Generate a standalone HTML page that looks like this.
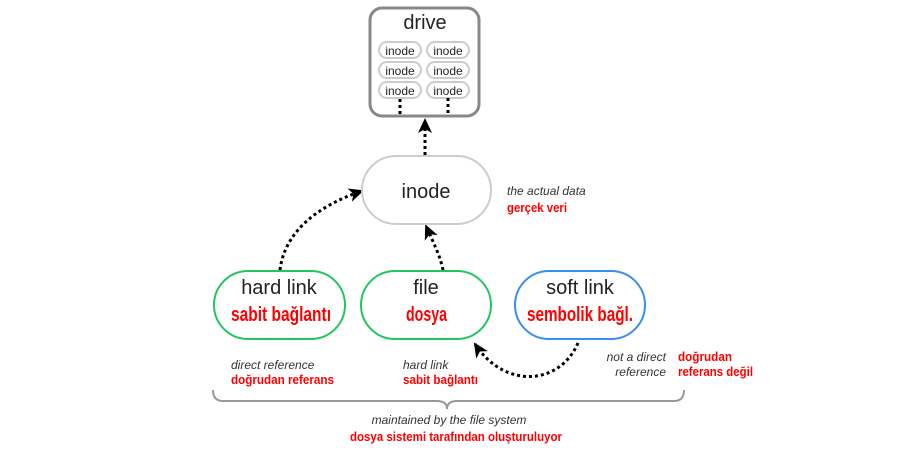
<!DOCTYPE html>
<html><head><meta charset="utf-8"><style>
html,body{margin:0;padding:0;background:#fff;}
svg{display:block;}
.b{font-family:"Liberation Sans",sans-serif;fill:#222;}
.r{font-family:"Liberation Sans",sans-serif;font-weight:bold;fill:#ff0000;}
.i{font-family:"Liberation Sans",sans-serif;font-style:italic;fill:#333;font-size:12px;}
</style></head><body>
<svg width="900" height="450" viewBox="0 0 900 450" xmlns="http://www.w3.org/2000/svg">
<defs>
<marker id="a" markerWidth="16" markerHeight="16" refX="13" refY="7" orient="auto" markerUnits="userSpaceOnUse">
<path d="M0,0 L15,7 L0,14 L4,7 Z" fill="#000"/>
</marker>
</defs>
<rect x="370" y="8" width="109" height="108" rx="12" fill="#fff" stroke="#888" stroke-width="3"/>
<text x="425" y="29" class="b" font-size="20" text-anchor="middle">drive</text>
<g fill="#fff" stroke="#ccc" stroke-width="2">
<rect x="379" y="42" width="42" height="16" rx="8"/><rect x="427" y="42" width="42" height="16" rx="8"/>
<rect x="379" y="62" width="42" height="16" rx="8"/><rect x="427" y="62" width="42" height="16" rx="8"/>
<rect x="379" y="82" width="42" height="16" rx="8"/><rect x="427" y="82" width="42" height="16" rx="8"/>
</g>
<g class="b" font-size="12" text-anchor="middle">
<text x="400" y="55">inode</text><text x="448" y="55">inode</text>
<text x="400" y="75">inode</text><text x="448" y="75">inode</text>
<text x="400" y="95">inode</text><text x="448" y="95">inode</text>
</g>
<g stroke="#000" stroke-width="3" stroke-dasharray="3,3">
<line x1="400" y1="99" x2="400" y2="114"/><line x1="448" y1="98" x2="448" y2="114"/>
</g>
<g fill="none" stroke="#000" stroke-width="3" stroke-dasharray="3,3" marker-end="url(#a)">
<line x1="425" y1="155" x2="425" y2="120"/>
<path d="M280,270 C285,230 320,205 362,191"/>
<path d="M443,270 C440,255 433,242 426,226"/>
<path d="M578,343 C560,385 505,390 475,344"/>
</g>
<rect x="362" y="156" width="129" height="68" rx="34" fill="#fff" stroke="#ccc" stroke-width="2"/>
<text x="426" y="198" class="b" font-size="20" text-anchor="middle">inode</text>
<text x="507" y="195" class="i">the actual data</text>
<text x="507" y="212" class="r" font-size="13" textLength="60" lengthAdjust="spacingAndGlyphs">gerçek veri</text>
<rect x="214" y="271" width="131" height="68" rx="34" fill="#fff" stroke="#22c55e" stroke-width="2"/>
<rect x="361" y="271" width="130" height="68" rx="34" fill="#fff" stroke="#22c55e" stroke-width="2"/>
<rect x="515" y="271" width="130" height="68" rx="34" fill="#fff" stroke="#3b8eea" stroke-width="2"/>
<g class="b" font-size="20" text-anchor="middle">
<text x="279" y="294">hard link</text><text x="426" y="294">file</text><text x="580" y="294">soft link</text>
</g>
<g class="r" font-size="20">
<text x="231" y="321" textLength="100" lengthAdjust="spacingAndGlyphs">sabit bağlantı</text>
<text x="406" y="321" textLength="41" lengthAdjust="spacingAndGlyphs">dosya</text>
<text x="527" y="321" textLength="106" lengthAdjust="spacingAndGlyphs">sembolik bağl.</text>
</g>
<text x="231" y="369" class="i">direct reference</text>
<text x="231" y="384" class="r" font-size="13" textLength="103" lengthAdjust="spacingAndGlyphs">doğrudan referans</text>
<text x="403" y="369" class="i">hard link</text>
<text x="403" y="384" class="r" font-size="13" textLength="75" lengthAdjust="spacingAndGlyphs">sabit bağlantı</text>
<text x="666" y="361" class="i" text-anchor="end">not a direct</text>
<text x="666" y="376" class="i" text-anchor="end">reference</text>
<text x="678" y="361" class="r" font-size="13" textLength="54" lengthAdjust="spacingAndGlyphs">doğrudan</text>
<text x="678" y="376" class="r" font-size="13" textLength="75" lengthAdjust="spacingAndGlyphs">referans değil</text>
<path d="M213,390 Q213,401 223,401 L437,401 Q447,401 447,409 Q447,401 457,401 L674,401 Q684,401 684,390" fill="none" stroke="#999" stroke-width="2"/>
<text x="449" y="424" class="i" text-anchor="middle">maintained by the file system</text>
<text x="350" y="441" class="r" font-size="13" textLength="212" lengthAdjust="spacingAndGlyphs">dosya sistemi tarafından oluşturuluyor</text>
</svg>
</body></html>
